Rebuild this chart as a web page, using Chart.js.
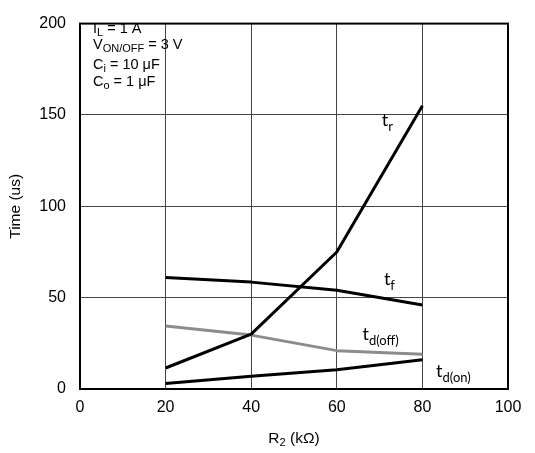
<!DOCTYPE html>
<html>
<head>
<meta charset="utf-8">
<script src="https://cdn.jsdelivr.net/npm/chart.js@4"></script>
<style>
  html, body { margin: 0; padding: 0; background: #fff; }
  #wrap { width: 535px; height: 453px; }
</style>
</head>
<body>
<div id="wrap"><canvas id="timeChart"></canvas></div>
<script>
// Data
const r2Values = [20, 40, 60, 80];
const trValues = [11.5, 30, 75, 155];
const tfValues = [61, 58.5, 54, 46];
const tdOffValues = [34.5, 29.5, 21, 19];
const tdOnValues = [3, 7, 10.5, 16];
const xTicks = [0, 20, 40, 60, 80, 100];
const yTicks = [0, 50, 100, 150, 200];

const conditions = [
    ['I', 'L', ' = 1 A'],
    ['V', 'ON/OFF', ' = 3 V'],
    ['C', 'i', ' = 10 μF'],
    ['C', 'o', ' = 1 μF']
];

// curve labels: [main, subscript, x, y] in data units
const curveLabels = [
    ['t', 'r', 70.5, 144],
    ['t', 'f', 71, 57],
    ['t', 'd(off)', 66, 27],
    ['t', 'd(on)', 83.2, 6.5]
];

function toPoints(ys) {
    return r2Values.map((x, i) => ({ x: x, y: ys[i] }));
}

// draw "main" + subscript, returns end x
function drawSub(ctx, main, sub, x, y, size, subSize, family, drop) {
    ctx.font = size + 'px ' + family;
    ctx.fillText(main, x, y);
    x += ctx.measureText(main).width;
    ctx.font = subSize + 'px ' + family;
    ctx.fillText(sub, x, y + drop);
    return x + ctx.measureText(sub).width;
}

const textPlugin = {
    id: 'texts',
    afterDraw(chart) {
        const ctx = chart.ctx;
        const area = chart.chartArea;
        const xs = chart.scales.x;
        const ys = chart.scales.y;
        const fam = '"Liberation Sans", Arial, sans-serif';
        ctx.save();

        // frame
        ctx.strokeStyle = '#000';
        ctx.lineWidth = 2;
        ctx.strokeRect(area.left, area.top, area.right - area.left, area.bottom - area.top);

        ctx.fillStyle = '#000';
        ctx.textAlign = 'left';
        ctx.textBaseline = 'alphabetic';

        // test conditions box
        const baselines = [33, 49, 69, 86];
        conditions.forEach((c, i) => {
            let x = drawSub(ctx, c[0], c[1], area.left + 13, baselines[i], 14.5, 11, fam, 3);
            ctx.font = '14.5px ' + fam;
            ctx.fillText(c[2], x, baselines[i]);
        });

        // curve labels
        curveLabels.forEach(l => {
            drawSub(ctx, l[0], l[1], xs.getPixelForValue(l[2]), ys.getPixelForValue(l[3]),
                18, 13, 'Lato, "Open Sans", sans-serif', 5);
        });

        // x axis title with subscript
        ctx.font = '15.5px ' + fam;
        const w1 = ctx.measureText('R').width;
        const w3 = ctx.measureText(' (kΩ)').width;
        ctx.font = '11px ' + fam;
        const w2 = ctx.measureText('2').width;
        const cx = (area.left + area.right) / 2;
        let x = cx - (w1 + w2 + w3) / 2;
        x = drawSub(ctx, 'R', '2', x, 443, 15.5, 11, fam, 3);
        ctx.font = '15.5px ' + fam;
        ctx.fillText(' (kΩ)', x, 443);

        ctx.restore();
    }
};

const lineStyle = {
    fill: false,
    pointRadius: 0,
    borderWidth: 3,
    tension: 0,
    borderJoinStyle: 'round'
};

const ctx = document.getElementById('timeChart').getContext('2d');
const chart = new Chart(ctx, {
    type: 'line',
    data: {
        datasets: [
            { ...lineStyle, label: 'tr', data: toPoints(trValues), borderColor: '#000' },
            { ...lineStyle, label: 'tf', data: toPoints(tfValues), borderColor: '#000' },
            { ...lineStyle, label: 'td(off)', data: toPoints(tdOffValues), borderColor: '#8c8c8c' },
            { ...lineStyle, label: 'td(on)', data: toPoints(tdOnValues), borderColor: '#000' }
        ]
    },
    options: {
        responsive: true,
        maintainAspectRatio: false,
        animation: false,
        layout: { padding: { top: 12, right: 27, left: 0, bottom: 0 } },
        plugins: {
            legend: { display: false },
            tooltip: { enabled: false }
        },
        scales: {
            x: {
                type: 'linear',
                min: 0,
                max: 100,
                afterBuildTicks: s => { s.ticks = xTicks.map(v => ({ value: v })); },
                afterFit: s => { s.height = 453 - 389; },
                grid: { color: '#444', lineWidth: 1, drawTicks: false },
                border: { display: false },
                ticks: {
                    color: '#000',
                    padding: 9,
                    font: { size: 16, family: '"Liberation Sans", Arial, sans-serif' }
                }
            },
            y: {
                min: 0,
                max: 200,
                afterBuildTicks: s => { s.ticks = yTicks.map(v => ({ value: v })); },
                afterFit: s => { s.width = 80; },
                grid: { color: '#444', lineWidth: 1, drawTicks: false },
                border: { display: false },
                ticks: {
                    color: '#000',
                    padding: 14,
                    font: { size: 16, family: '"Liberation Sans", Arial, sans-serif' }
                },
                title: {
                    display: true,
                    text: 'Time (us)',
                    color: '#000',
                    padding: { top: 6, bottom: 0 },
                    font: { size: 15.5, family: '"Liberation Sans", Arial, sans-serif' }
                }
            }
        }
    },
    plugins: [textPlugin]
});
</script>
</body>
</html>
